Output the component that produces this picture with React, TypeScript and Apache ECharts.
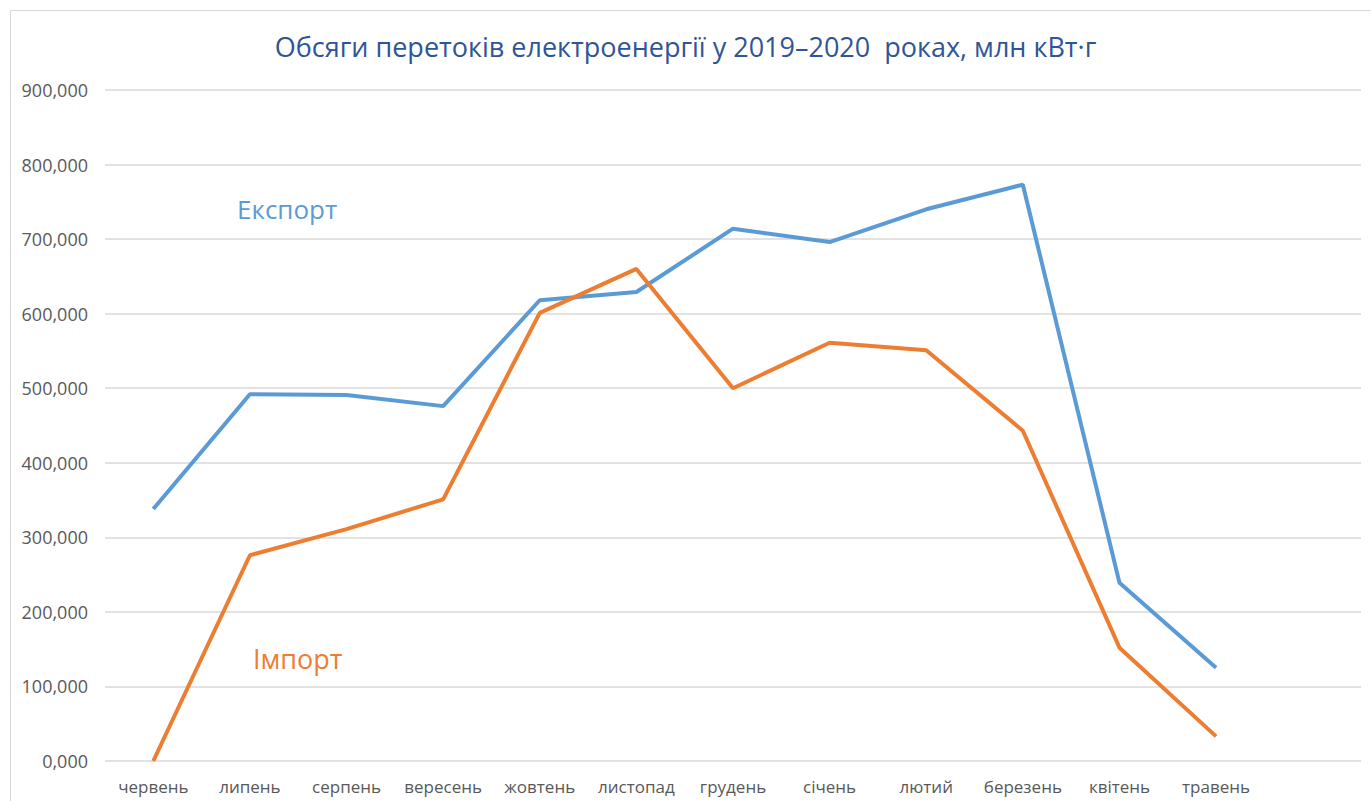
import React, { useEffect, useRef } from "react";
import * as echarts from "echarts";

const months = [
  "червень", "липень", "серпень", "вересень", "жовтень", "листопад",
  "грудень", "січень", "лютий", "березень", "квітень", "травень", "",
];
const exportValues = [338, 492, 491, 476, 618, 629, 714, 696, 740, 773, 239, 125, null];
const importValues = [0, 276, 311, 351, 601, 660, 500, 561, 551, 443, 152, 33, null];
const titleText = "Обсяги перетоків електроенергії у 2019–2020  роках, млн кВт·г";
const FONT = "'Open Sans', sans-serif";

export default function App() {
  const ref = useRef<HTMLDivElement>(null);
  useEffect(() => {
    if (!ref.current) return;
    const chart = echarts.init(ref.current, null, { renderer: "svg" });
    chart.setOption({
      animation: false,
      backgroundColor: "#ffffff",
      title: {
        text: titleText,
        left: "center",
        top: 28,
        textStyle: { color: "#2F5597", fontSize: 27, fontWeight: "normal", fontFamily: FONT },
      },
      grid: { left: 105, right: 10, top: 90, bottom: 40 },
      xAxis: {
        type: "category",
        data: months,
        boundaryGap: true,
        axisLine: { show: false },
        axisTick: { show: false },
        axisLabel: { color: "#595959", fontSize: 17, margin: 17, fontFamily: FONT, interval: 0 },
      },
      yAxis: {
        type: "value",
        min: 0,
        max: 900,
        interval: 100,
        axisLine: { show: false },
        axisTick: { show: false },
        splitLine: { lineStyle: { color: "#D9D9D9", width: 1.5 } },
        axisLabel: {
          color: "#595959",
          fontSize: 18,
          margin: 17,
          fontFamily: FONT,
          formatter: (v: number) => v.toFixed(3).replace(".", ","),
        },
      },
      series: [
        {
          name: "Експорт",
          type: "line",
          data: exportValues,
          symbol: "none",
          lineStyle: { color: "#5B9BD5", width: 4 },
          itemStyle: { color: "#5B9BD5" },
        },
        {
          name: "Імпорт",
          type: "line",
          data: importValues,
          symbol: "none",
          lineStyle: { color: "#ED7D31", width: 4 },
          itemStyle: { color: "#ED7D31" },
        },
      ],
      graphic: [
        {
          type: "rect",
          shape: { x: 10.5, y: 10.5, width: 1380, height: 820 },
          style: { fill: "none", stroke: "#D9D9D9", lineWidth: 1 },
          silent: true,
        },
        {
          type: "text",
          left: 237,
          top: 196,
          style: { text: "Експорт", fill: "#5B9BD5", fontSize: 26, fontFamily: FONT },
        },
        {
          type: "text",
          left: 253,
          top: 645,
          style: { text: "Імпорт", fill: "#ED7D31", fontSize: 27, fontFamily: FONT },
        },
      ],
    });
    return () => chart.dispose();
  }, []);
  return (
    <div
      ref={ref}
      style={{ position: "fixed", left: 0, top: 0, width: 1371, height: 801 }}
    />
  );
}
